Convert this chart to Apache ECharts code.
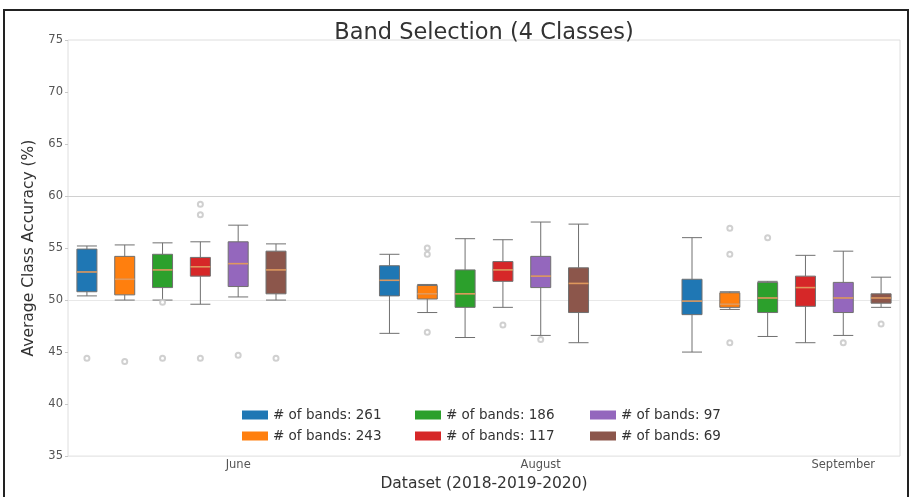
<!DOCTYPE html>
<html>
<head>
<meta charset="utf-8">
<title>Band Selection (4 Classes)</title>
<script src="https://cdn.jsdelivr.net/npm/echarts@6/dist/echarts.min.js"></script>
<style>
  html, body { margin: 0; padding: 0; background: #fff; }
  #chart { width: 912px; height: 497px; }
</style>
</head>
<body>
<div id="chart"></div>
<script>
// Months on the x axis (one group of boxes per month)
const months = ['June', 'August', 'September'];

// Number of spectral bands kept, one box series per count
const bandCounts = [261, 243, 186, 117, 97, 69];

// Box statistics per month: [min, Q1, median, Q3, max]
const stats261 = [[50.4, 50.8, 52.7, 54.9, 55.2], [46.8, 50.4, 51.9, 53.3, 54.4], [45.0, 48.6, 49.9, 52.0, 56.0]];
const stats243 = [[50.0, 50.5, 52.0, 54.2, 55.3], [48.8, 50.1, 50.6, 51.4, 51.5], [49.1, 49.3, 49.6, 50.7, 50.8]];
const stats186 = [[50.0, 51.2, 52.9, 54.4, 55.5], [46.4, 49.3, 50.6, 52.9, 55.9], [46.5, 48.8, 50.2, 51.7, 51.8]];
const stats117 = [[49.6, 52.3, 53.2, 54.1, 55.6], [49.3, 51.8, 52.9, 53.7, 55.8], [45.9, 49.4, 51.2, 52.3, 54.3]];
const stats97  = [[50.3, 51.3, 53.5, 55.6, 57.2], [46.6, 51.2, 52.3, 54.2, 57.5], [46.6, 48.8, 50.2, 51.7, 54.7]];
const stats69  = [[50.0, 50.6, 52.9, 54.7, 55.4], [45.9, 48.8, 51.6, 53.1, 57.3], [49.3, 49.7, 50.2, 50.6, 52.2]];

// Outlying runs per month
const out261 = [[44.4], [], []];
const out243 = [[44.1], [55.0, 54.4, 46.9], [56.9, 54.4, 45.9]];
const out186 = [[44.4, 49.8], [], [56.0]];
const out117 = [[58.2, 59.2, 44.4], [47.6], []];
const out97  = [[44.7], [46.2], [45.9]];
const out69  = [[44.4], [], [47.7]];

// Y axis ticks
const yTicks = [35, 40, 45, 50, 55, 60, 65, 70, 75];

const allStats = [stats261, stats243, stats186, stats117, stats97, stats69];
const allOutliers = [out261, out243, out186, out117, out97, out69];
const palette = ['#1f77b4', '#ff7f0e', '#2ca02c', '#d62728', '#9467bd', '#8c564b'];
const seriesNames = bandCounts.map(n => '# of bands: ' + n);

// Slot layout: each month is a block of 8 slots, boxes sit in slots 1..6,
// the month label sits under the fifth slot.
const slotsPerGroup = 8;
const slotOf = (g, s) => g * slotsPerGroup + s + 1;
const labelSlots = months.map((m, g) => slotOf(g, 4));
const xMin = 0.5, xMax = 22.5;

const xAxes = [];
for (let s = 0; s < bandCounts.length; s++) {
  const base = {
    type: 'value', gridIndex: 0, min: xMin, max: xMax,
    splitLine: { show: false }
  };
  if (s === 0) {
    Object.assign(base, {
      show: true,
      axisLine: { show: false },
      axisTick: { show: false },
      axisLabel: {
        customValues: labelSlots,
        formatter: v => months[labelSlots.indexOf(v)] || '',
        color: '#555', fontSize: 11.5, margin: 3,
        fontFamily: 'DejaVu Sans'
      },
      name: 'Dataset (2018-2019-2020)',
      nameLocation: 'middle',
      nameGap: 14,
      nameTextStyle: { color: '#333', fontSize: 15.5, fontFamily: 'DejaVu Sans' }
    });
  } else {
    base.show = false;
  }
  xAxes.push(base);
}

const series = [];
bandCounts.forEach((n, s) => {
  series.push({
    name: seriesNames[s],
    type: 'boxplot',
    xAxisIndex: s,
    yAxisIndex: 0,
    boxWidth: [20, 20],
    itemStyle: { color: palette[s], borderColor: '#707070', borderWidth: 1 },
    emphasis: { disabled: true },
    data: allStats[s].map((st, g) => [slotOf(g, s)].concat(st))
  });
});

// Median marks drawn over each box
const medianData = [];
allStats.forEach((st, s) => st.forEach((b, g) => medianData.push([slotOf(g, s), b[2]])));
series.push({
  name: 'median', type: 'scatter', xAxisIndex: 0, yAxisIndex: 0,
  symbol: 'rect', symbolSize: [20, 1.6], silent: true, z: 5,
  itemStyle: { color: '#f9a25a' },
  data: medianData
});

// Flier points
const flierData = [];
allOutliers.forEach((o, s) => o.forEach((vals, g) => vals.forEach(v => flierData.push([slotOf(g, s), v]))));
series.push({
  name: 'fliers', type: 'scatter', xAxisIndex: 0, yAxisIndex: 0,
  symbol: 'emptyCircle', symbolSize: 5, silent: true, z: 4,
  itemStyle: { color: '#c4c4c4', borderWidth: 1 },
  data: flierData
});

// Legend laid out in three columns of two entries
const legendColumns = [[0, 1], [2, 3], [4, 5]];
const legendLefts = [237, 410, 585];
const legends = legendColumns.map((col, i) => ({
  orient: 'vertical',
  left: legendLefts[i],
  top: 403,
  itemWidth: 26,
  itemHeight: 9,
  itemGap: 7,
  icon: 'rect',
  selectedMode: false,
  textStyle: { color: '#333', fontSize: 13.5, fontFamily: 'DejaVu Sans' },
  data: col.map(k => ({
    name: seriesNames[k],
    itemStyle: { color: palette[k], borderWidth: 0 }
  }))
}));

const chart = echarts.init(document.getElementById('chart'), null, { renderer: 'canvas' });
chart.setOption({
  animation: false,
  backgroundColor: '#fff',
  color: palette,
  title: {
    text: 'Band Selection (4 Classes)',
    left: 479,
    textAlign: 'center',
    top: 17,
    textStyle: { color: '#333', fontSize: 22.5, fontWeight: 'normal', fontFamily: 'DejaVu Sans' }
  },
  graphic: [{
    type: 'polyline',
    shape: { points: [[4, 497], [4, 10], [908, 10], [908, 497]] },
    style: { stroke: '#222', lineWidth: 2, fill: null },
    silent: true
  }],
  legend: legends,
  grid: {
    left: 68, right: 12, top: 40, bottom: 40,
    show: true, borderColor: '#dedede', borderWidth: 1, backgroundColor: 'transparent'
  },
  xAxis: xAxes,
  yAxis: {
    type: 'value', min: yTicks[0], max: yTicks[yTicks.length - 1], interval: 5,
    axisLine: { show: false },
    axisTick: { show: true, length: 3, lineStyle: { color: '#c8c8c8' } },
    axisLabel: { color: '#555', fontSize: 11.5, margin: 5, fontFamily: 'DejaVu Sans' },
    splitLine: {
      show: true,
      lineStyle: {
        color: ['transparent', 'transparent', 'transparent', '#e8e8e8', 'transparent', '#d0d0d0', 'transparent', 'transparent', 'transparent']
      }
    },
    name: 'Average Class Accuracy (%)',
    nameLocation: 'middle',
    nameGap: 24,
    nameTextStyle: { color: '#333', fontSize: 15.5, fontFamily: 'DejaVu Sans' }
  },
  series: series
});
</script>
</body>
</html>
